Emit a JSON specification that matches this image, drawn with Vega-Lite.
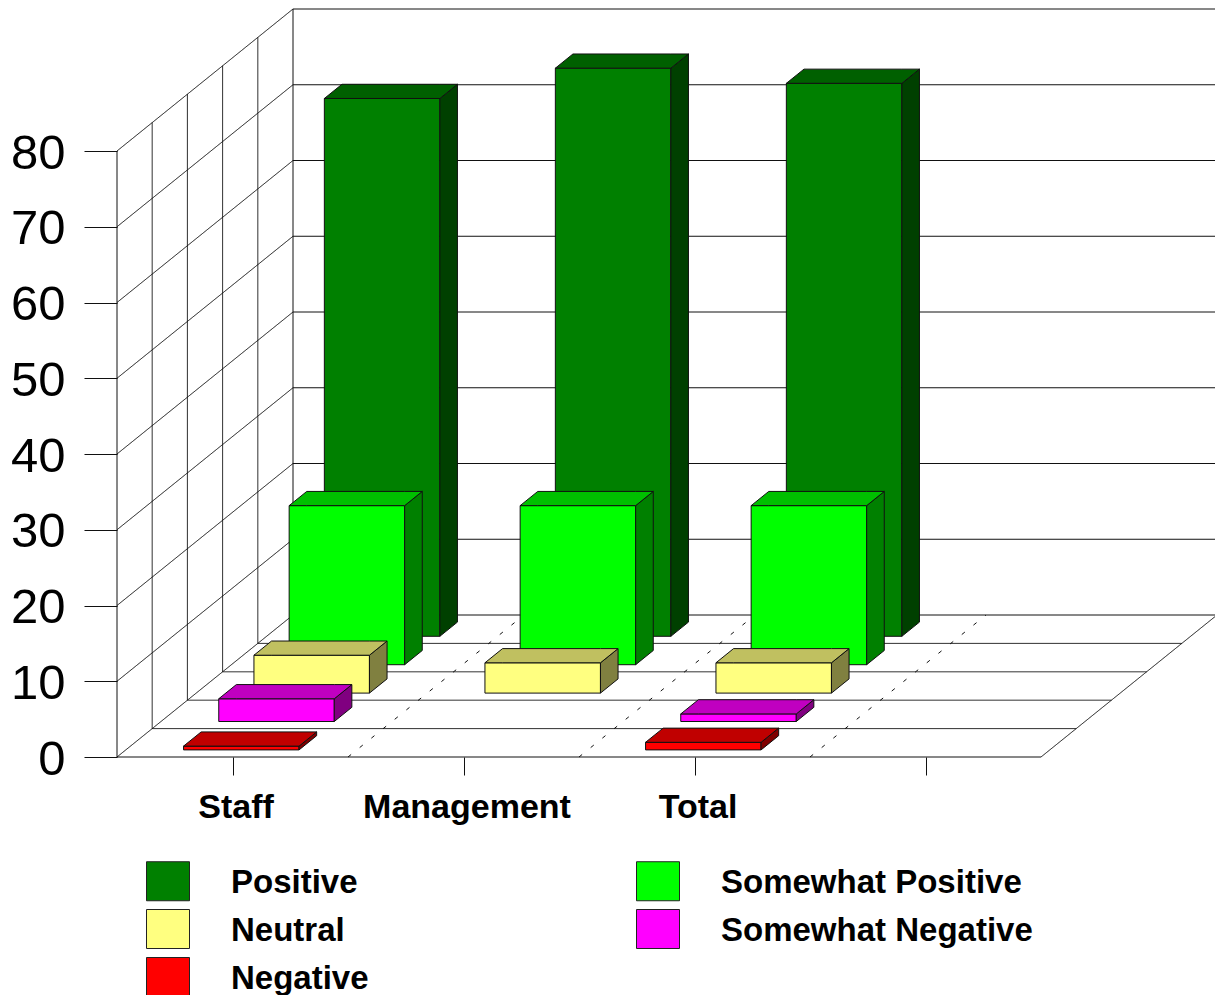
{
  "$schema": "https://vega.github.io/schema/vega-lite/v6.json",
  "autosize": "none",
  "width": 1098,
  "height": 757,
  "padding": {"left": 117, "top": 0, "right": 0, "bottom": 238},
  "background": "white",
  "config": {"view": {"stroke": null}, "font": "Liberation Sans"},
  "datasets": {
    "frame": [
      {"cat":0,"d":0,"v":0,"cat2":0,"d2":5,"v2":0,"line":"solid"},
      {"cat":0,"d":0,"v":10,"cat2":0,"d2":5,"v2":10,"line":"solid"},
      {"cat":0,"d":0,"v":20,"cat2":0,"d2":5,"v2":20,"line":"solid"},
      {"cat":0,"d":0,"v":30,"cat2":0,"d2":5,"v2":30,"line":"solid"},
      {"cat":0,"d":0,"v":40,"cat2":0,"d2":5,"v2":40,"line":"solid"},
      {"cat":0,"d":0,"v":50,"cat2":0,"d2":5,"v2":50,"line":"solid"},
      {"cat":0,"d":0,"v":60,"cat2":0,"d2":5,"v2":60,"line":"solid"},
      {"cat":0,"d":0,"v":70,"cat2":0,"d2":5,"v2":70,"line":"solid"},
      {"cat":0,"d":0,"v":80,"cat2":0,"d2":5,"v2":80,"line":"solid"},
      {"cat":0,"d":5,"v":0,"cat2":4,"d2":5,"v2":0,"line":"solid"},
      {"cat":0,"d":5,"v":10,"cat2":4,"d2":5,"v2":10,"line":"solid"},
      {"cat":0,"d":5,"v":20,"cat2":4,"d2":5,"v2":20,"line":"solid"},
      {"cat":0,"d":5,"v":30,"cat2":4,"d2":5,"v2":30,"line":"solid"},
      {"cat":0,"d":5,"v":40,"cat2":4,"d2":5,"v2":40,"line":"solid"},
      {"cat":0,"d":5,"v":50,"cat2":4,"d2":5,"v2":50,"line":"solid"},
      {"cat":0,"d":5,"v":60,"cat2":4,"d2":5,"v2":60,"line":"solid"},
      {"cat":0,"d":5,"v":70,"cat2":4,"d2":5,"v2":70,"line":"solid"},
      {"cat":0,"d":5,"v":80,"cat2":4,"d2":5,"v2":80,"line":"solid"},
      {"cat":0,"d":0,"v":0,"cat2":0,"d2":0,"v2":80,"line":"solid"},
      {"cat":0,"d":1,"v":0,"cat2":0,"d2":1,"v2":80,"line":"solid"},
      {"cat":0,"d":2,"v":0,"cat2":0,"d2":2,"v2":80,"line":"solid"},
      {"cat":0,"d":3,"v":0,"cat2":0,"d2":3,"v2":80,"line":"solid"},
      {"cat":0,"d":4,"v":0,"cat2":0,"d2":4,"v2":80,"line":"solid"},
      {"cat":0,"d":5,"v":0,"cat2":0,"d2":5,"v2":80,"line":"solid"},
      {"cat":0,"d":0,"v":0,"cat2":4,"d2":0,"v2":0,"line":"solid"},
      {"cat":0,"d":1,"v":0,"cat2":4,"d2":1,"v2":0,"line":"solid"},
      {"cat":0,"d":2,"v":0,"cat2":4,"d2":2,"v2":0,"line":"solid"},
      {"cat":0,"d":3,"v":0,"cat2":4,"d2":3,"v2":0,"line":"solid"},
      {"cat":0,"d":4,"v":0,"cat2":4,"d2":4,"v2":0,"line":"solid"},
      {"cat":4,"d":0,"v":0,"cat2":4,"d2":5,"v2":0,"line":"solid"},
      {"cat":1,"d":0,"v":0,"cat2":1,"d2":5,"v2":0,"line":"dotted"},
      {"cat":2,"d":0,"v":0,"cat2":2,"d2":5,"v2":0,"line":"dotted"},
      {"cat":3,"d":0,"v":0,"cat2":3,"d2":5,"v2":0,"line":"dotted"}
    ],
    "bars": [
      {"category":"Staff","series":"Positive","value":71},
      {"category":"Management","series":"Positive","value":75},
      {"category":"Total","series":"Positive","value":73},
      {"category":"Staff","series":"Somewhat Positive","value":21},
      {"category":"Management","series":"Somewhat Positive","value":21},
      {"category":"Total","series":"Somewhat Positive","value":21},
      {"category":"Staff","series":"Neutral","value":5},
      {"category":"Management","series":"Neutral","value":4},
      {"category":"Total","series":"Neutral","value":4},
      {"category":"Staff","series":"Somewhat Negative","value":3},
      {"category":"Management","series":"Somewhat Negative","value":0},
      {"category":"Total","series":"Somewhat Negative","value":1},
      {"category":"Staff","series":"Negative","value":0.5},
      {"category":"Management","series":"Negative","value":0},
      {"category":"Total","series":"Negative","value":1}
    ]
  },
  "layer": [
    {
      "data": {"name": "frame"},
      "transform": [
        {"calculate": "datum.cat + datum.d * 0.15238", "as": "px"},
        {"calculate": "datum.v + datum.d * 3.749", "as": "py"},
        {"calculate": "datum.cat2 + datum.d2 * 0.15238", "as": "px2"},
        {"calculate": "datum.v2 + datum.d2 * 3.749", "as": "py2"}
      ],
      "mark": {"type": "rule", "color": "#111111", "strokeWidth": 1},
      "encoding": {
        "x": {
          "field": "px",
          "type": "quantitative",
          "scale": {"domain": [0, 4.7532], "nice": false, "zero": false},
          "axis": {
            "title": null,
            "values": [0.5, 1.5, 2.5, 3.5],
            "labelExpr": "['Staff', 'Management', 'Total', ''][floor(datum.value)]",
            "domain": false,
            "grid": false,
            "tickSize": 18,
            "tickColor": "#111111",
            "labelFontSize": 34,
            "labelFontWeight": "bold",
            "labelColor": "black",
            "labelPadding": 15,
            "labelOffset": 3,
            "labelLimit": 400,
            "labelOverlap": false,
            "labelFlush": false
          }
        },
        "x2": {"field": "px2"},
        "y": {
          "field": "py",
          "type": "quantitative",
          "scale": {"domain": [0, 99.934], "nice": false, "zero": false},
          "axis": {
            "title": null,
            "values": [0, 10, 20, 30, 40, 50, 60, 70, 80],
            "domain": false,
            "grid": false,
            "tickSize": 33,
            "tickColor": "#111111",
            "labelFontSize": 49,
            "labelColor": "black",
            "labelPadding": 19,
            "labelOffset": 2,
            "labelOverlap": false,
            "labelFlush": false
          }
        },
        "y2": {"field": "py2"},
        "strokeDash": {
          "field": "line",
          "type": "nominal",
          "scale": {"domain": ["solid", "dotted"], "range": [[1, 0], [4, 11]]},
          "legend": null
        }
      }
    },
    {
      "data": {"name": "bars"},
      "transform": [
        {"filter": "datum.value > 0"},
        {"calculate": "indexof(['Staff', 'Management', 'Total'], datum.category)", "as": "c"},
        {"calculate": "indexof(['Negative', 'Somewhat Negative', 'Neutral', 'Somewhat Positive', 'Positive'], datum.series)", "as": "s"},
        {"calculate": "datum.c + 0.25 + (datum.s + 0.25) * 0.15238", "as": "x0"},
        {"calculate": "datum.x0 + 0.5", "as": "x1"},
        {"calculate": "(datum.s + 0.25) * 3.749", "as": "base"},
        {"calculate": "datum.base + datum.value", "as": "top"},
        {"calculate": "[{face:'front',x:datum.x0,y:datum.top,y0:datum.base},{face:'front',x:datum.x1,y:datum.top,y0:datum.base},{face:'side',x:datum.x1,y:datum.top,y0:datum.base},{face:'side',x:datum.x1+0.07619,y:datum.top+1.8745,y0:datum.base+1.8745},{face:'top',x:datum.x0,y:datum.top,y0:datum.top},{face:'top',x:datum.x0+0.07619,y:datum.top+1.8745,y0:datum.top},{face:'top',x:datum.x1,y:datum.top+1.8745,y0:datum.top},{face:'top',x:datum.x1+0.07619,y:datum.top+1.8745,y0:datum.top+1.8745}]", "as": "vertex"},
        {"flatten": ["vertex"]},
        {"calculate": "datum.vertex.face == 'front' ? datum.series : datum.series + ' ' + datum.vertex.face", "as": "shade"},
        {"calculate": "datum.category + ' ' + datum.series + ' ' + datum.vertex.face", "as": "faceId"}
      ],
      "mark": {"type": "area", "stroke": "#111111", "strokeWidth": 1, "orient": "vertical"},
      "encoding": {
        "x": {"field": "vertex.x", "type": "quantitative"},
        "y": {"field": "vertex.y", "type": "quantitative"},
        "y2": {"field": "vertex.y0"},
        "detail": {"field": "faceId"},
        "fill": {
          "field": "shade",
          "type": "nominal",
          "scale": {
            "domain": [
              "Positive", "Positive top", "Positive side",
              "Somewhat Positive", "Somewhat Positive top", "Somewhat Positive side",
              "Neutral", "Neutral top", "Neutral side",
              "Somewhat Negative", "Somewhat Negative top", "Somewhat Negative side",
              "Negative", "Negative top", "Negative side"
            ],
            "range": [
              "#008000", "#006000", "#004000",
              "#00ff00", "#00c000", "#008000",
              "#ffff80", "#c0c060", "#808040",
              "#ff00ff", "#c000c0", "#800080",
              "#ff0000", "#c00000", "#800000"
            ]
          },
          "legend": {
            "title": null,
            "orient": "none",
            "legendX": 29,
            "legendY": 861,
            "padding": 0,
            "direction": "horizontal",
            "columns": 2,
            "values": ["Positive", "Somewhat Positive", "Neutral", "Somewhat Negative", "Negative"],
            "symbolType": "M-1,-1H1V0.814H-1Z",
            "symbolSize": 1849,
            "symbolStrokeColor": "#222222",
            "symbolStrokeWidth": 1,
            "symbolOpacity": 1,
            "labelFontSize": 33,
            "labelFontWeight": "bold",
            "labelColor": "black",
            "labelOffset": 41,
            "labelLimit": 500,
            "columnPadding": 265,
            "rowPadding": 4
          }
        }
      }
    }
  ]
}
